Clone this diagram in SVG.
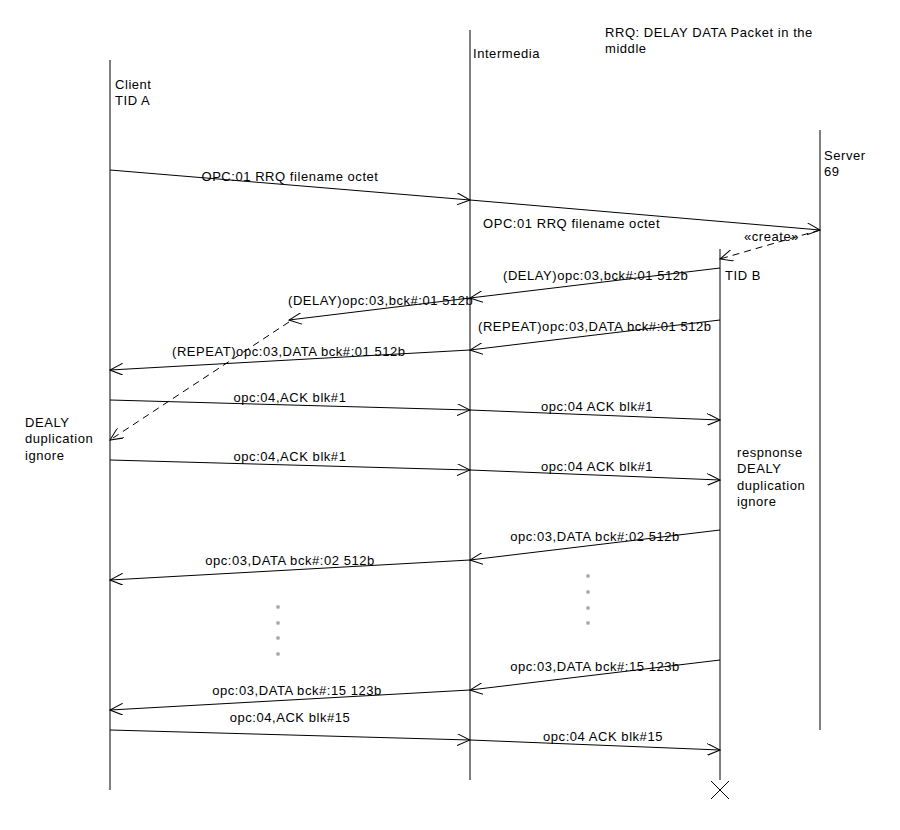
<svg xmlns="http://www.w3.org/2000/svg" width="900" height="830" viewBox="0 0 900 830">
<style>
text{font-family:"Liberation Sans",Arial,sans-serif;font-size:13px;letter-spacing:0.55px;fill:#000}
.life{stroke:#000;stroke-width:1;fill:none}
.msg{stroke:#000;stroke-width:1;fill:none;marker-end:url(#arr)}
.dash{stroke:#000;stroke-width:1;fill:none;stroke-dasharray:7,5;marker-end:url(#arr)}
.dot{fill:#fff;stroke:#888;stroke-width:1}
.c{text-anchor:middle}
</style>
<defs>
<marker id="arr" viewBox="0 0 14 12" refX="13" refY="6" markerWidth="14" markerHeight="12" markerUnits="userSpaceOnUse" orient="auto">
<path d="M0,0 L13,6 L0,12" fill="none" stroke="#000" stroke-width="1"/>
</marker>
</defs>
<rect width="900" height="830" fill="#fff"/>
<text x="605" y="37">RRQ: DELAY DATA Packet in the</text>
<text x="605" y="53">middle</text>
<g id="client">
<line class="life" x1="110" y1="60" x2="110" y2="790"/>
<text x="115" y="89">Client</text>
<text x="115" y="105">TID A</text>
</g>
<g id="intermedia">
<line class="life" x1="470" y1="30" x2="470" y2="780"/>
<text x="473" y="58">Intermedia</text>
</g>
<g id="server">
<line class="life" x1="820" y1="130" x2="820" y2="730"/>
<text x="824" y="160">Server</text>
<text x="824" y="176">69</text>
</g>
<g id="tidb">
<line class="life" x1="720" y1="249" x2="720" y2="780"/>
<text x="725" y="280">TID B</text>
<path d="M711,781 L729,799 M729,781 L711,799" stroke="#000" fill="none"/>
</g>
<g id="note-client">
<text x="25" y="427">DEALY</text>
<text x="25" y="443">duplication</text>
<text x="25" y="460">ignore</text>
</g>
<g id="note-tidb">
<text x="737" y="457">respnonse</text>
<text x="737" y="473">DEALY</text>
<text x="737" y="490">duplication</text>
<text x="737" y="506">ignore</text>
</g>
<g id="dots">
<rect class="dot" x="277" y="606" width="2" height="2"/>
<rect class="dot" x="277" y="622" width="2" height="2"/>
<rect class="dot" x="277" y="637" width="2" height="2"/>
<rect class="dot" x="277" y="653" width="2" height="2"/>
<rect class="dot" x="587" y="575" width="2" height="2"/>
<rect class="dot" x="587" y="591" width="2" height="2"/>
<rect class="dot" x="587" y="607" width="2" height="2"/>
<rect class="dot" x="587" y="622" width="2" height="2"/>
</g>
<g id="connectors">
<line class="msg" x1="110" y1="170" x2="470" y2="200"/>
<line class="msg" x1="470" y1="200" x2="820" y2="230"/>
<line class="dash" x1="820" y1="230" x2="720" y2="259"/>
<line class="msg" x1="720" y1="268" x2="470" y2="298"/>
<line class="msg" x1="470" y1="298" x2="289" y2="320"/>
<line class="dash" x1="289" y1="322" x2="110" y2="440"/>
<line class="msg" x1="720" y1="320" x2="470" y2="350"/>
<line class="msg" x1="470" y1="350" x2="110" y2="370"/>
<line class="msg" x1="110" y1="400" x2="470" y2="410"/>
<line class="msg" x1="470" y1="410" x2="720" y2="420"/>
<line class="msg" x1="110" y1="460" x2="470" y2="470"/>
<line class="msg" x1="470" y1="470" x2="720" y2="480"/>
<line class="msg" x1="720" y1="530" x2="470" y2="560"/>
<line class="msg" x1="470" y1="560" x2="110" y2="580"/>
<line class="msg" x1="720" y1="660" x2="470" y2="690"/>
<line class="msg" x1="470" y1="690" x2="110" y2="710"/>
<line class="msg" x1="110" y1="730" x2="470" y2="740"/>
<line class="msg" x1="470" y1="740" x2="720" y2="750"/>
<text x="290" y="181" class="c">OPC:01 RRQ filename octet</text>
<text x="483" y="228">OPC:01 RRQ filename octet</text>
<text x="744" y="241">«create»</text>
<text x="503" y="280">(DELAY)opc:03,bck#:01 512b</text>
<text x="288" y="305">(DELAY)opc:03,bck#:01 512b</text>
<text x="478" y="331">(REPEAT)opc:03,DATA bck#:01 512b</text>
<text x="172" y="356">(REPEAT)opc:03,DATA bck#:01 512b</text>
<text x="290" y="402" class="c">opc:04,ACK blk#1</text>
<text x="597" y="411" class="c">opc:04 ACK blk#1</text>
<text x="290" y="461" class="c">opc:04,ACK blk#1</text>
<text x="597" y="471" class="c">opc:04 ACK blk#1</text>
<text x="595" y="541" class="c">opc:03,DATA bck#:02 512b</text>
<text x="290" y="565" class="c">opc:03,DATA bck#:02 512b</text>
<text x="595" y="671" class="c">opc:03,DATA bck#:15 123b</text>
<text x="297" y="695" class="c">opc:03,DATA bck#:15 123b</text>
<text x="290" y="722" class="c">opc:04,ACK blk#15</text>
<text x="603" y="741" class="c">opc:04 ACK blk#15</text>
</g>
</svg>
